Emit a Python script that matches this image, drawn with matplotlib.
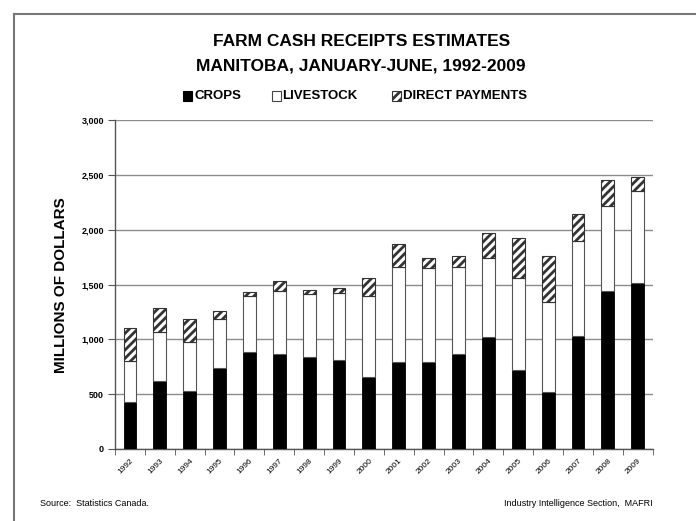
import matplotlib
matplotlib.use('Agg')
import matplotlib.pyplot as plt
import numpy as np
from matplotlib.lines import Line2D
from matplotlib.patches import Rectangle
from matplotlib.ticker import FuncFormatter

plt.rcParams['font.family'] = ['Liberation Sans', 'DejaVu Sans']
plt.rcParams['hatch.linewidth'] = 2.0

years = [str(y) for y in range(1992, 2010)]
crops = [428, 623, 531, 741, 881, 869, 836, 814, 653, 796,
         796, 869, 1021, 717, 520, 1033, 1440, 1513]
livestock = [377, 446, 447, 441, 517, 574, 580, 608, 739, 863,
             857, 793, 720, 845, 820, 863, 778, 845]
direct = [295, 219, 207, 82, 39, 88, 33, 46, 167, 213,
          94, 103, 234, 361, 422, 246, 240, 121]
series_names = ['CROPS', 'LIVESTOCK', 'DIRECT PAYMENTS']

W, H = 696, 521
fig = plt.figure(figsize=(W / 100, H / 100), dpi=100)
ax = fig.add_axes([115 / W, 1 - 449 / H, (652.7 - 115) / W, (449 - 120.3) / H])

x = np.arange(len(years))
w = 0.43
crops = np.array(crops)
livestock = np.array(livestock)
direct = np.array(direct)

ax.bar(x, crops, w, color='black', edgecolor='black', lw=0.6, zorder=3)
ax.bar(x, livestock, w, bottom=crops, color='white', edgecolor='#555555', lw=0.8, zorder=3)
ax.bar(x, direct, w, bottom=crops + livestock, color='white', edgecolor='#333333',
       hatch='////', lw=0.8, zorder=3)

ax.set_xlim(-0.5, len(years) - 0.5)
ax.set_ylim(0, 3000)
ax.set_yticks(np.arange(0, 3001, 500))
ax.yaxis.set_major_formatter(FuncFormatter(lambda v, p: f'{int(v):,}'))
ax.grid(axis='y', color='#8c8c8c', lw=1.0, zorder=0)
ax.set_axisbelow(True)

ax.set_xticks(x)
ax.set_xticklabels(years, rotation=45, fontsize=6, ha='right', rotation_mode='anchor')
ax.set_xticks(np.arange(-0.5, len(years)), minor=True)
ax.tick_params(axis='x', which='major', length=0, pad=6)
ax.tick_params(axis='x', which='minor', length=4, color='#555555', direction='out')
ax.tick_params(axis='y', length=5, color='#555555', labelsize=6.5, pad=3)
for lab in ax.get_yticklabels():
    lab.set_fontweight('bold')

for s in ['top', 'right']:
    ax.spines[s].set_visible(False)
for s in ['left', 'bottom']:
    ax.spines[s].set_color('#555555')
    ax.spines[s].set_linewidth(1.0)

ax.set_ylabel('MILLIONS OF DOLLARS', fontsize=11, fontweight='bold')
ax.yaxis.set_label_coords(-0.088, 0.5)

fig.text(0.519, 1 - 41 / H, 'FARM CASH RECEIPTS ESTIMATES', ha='center', va='center',
         fontsize=12.5, fontweight='bold')
fig.text(0.519, 1 - 66 / H, 'MANITOBA, JANUARY-JUNE, 1992-2009', ha='center', va='center',
         fontsize=12.5, fontweight='bold')

# legend laid out by hand to match the original spacing
styles = [dict(facecolor='black', edgecolor='black'),
          dict(facecolor='white', edgecolor='#444444'),
          dict(facecolor='white', edgecolor='#333333', hatch='////')]
box_x = [183, 272, 392]
text_x = [195, 282, 403]
ly = 96
for name, st, bx, tx in zip(series_names, styles, box_x, text_x):
    fig.add_artist(Rectangle((bx / W, 1 - (ly + 4.5) / H), 9 / W, 9 / H,
                             transform=fig.transFigure, lw=0.8, **st))
    fig.text(tx / W, 1 - ly / H, name, fontsize=9.5, fontweight='bold', va='center')

fig.text(40 / W, 1 - 504 / H, 'Source:  Statistics Canada.', fontsize=6.5, va='center')
fig.text(653 / W, 1 - 504 / H, 'Industry Intelligence Section,  MAFRI', fontsize=6.5,
         va='center', ha='right')

# outer frame
fig.add_artist(Line2D([14 / W, 1], [1 - 14 / H] * 2, color='#777777', lw=1.5))
fig.add_artist(Line2D([14 / W] * 2, [0, 1 - 14 / H], color='#777777', lw=1.5))

fig.savefig('out.png', dpi=100)
